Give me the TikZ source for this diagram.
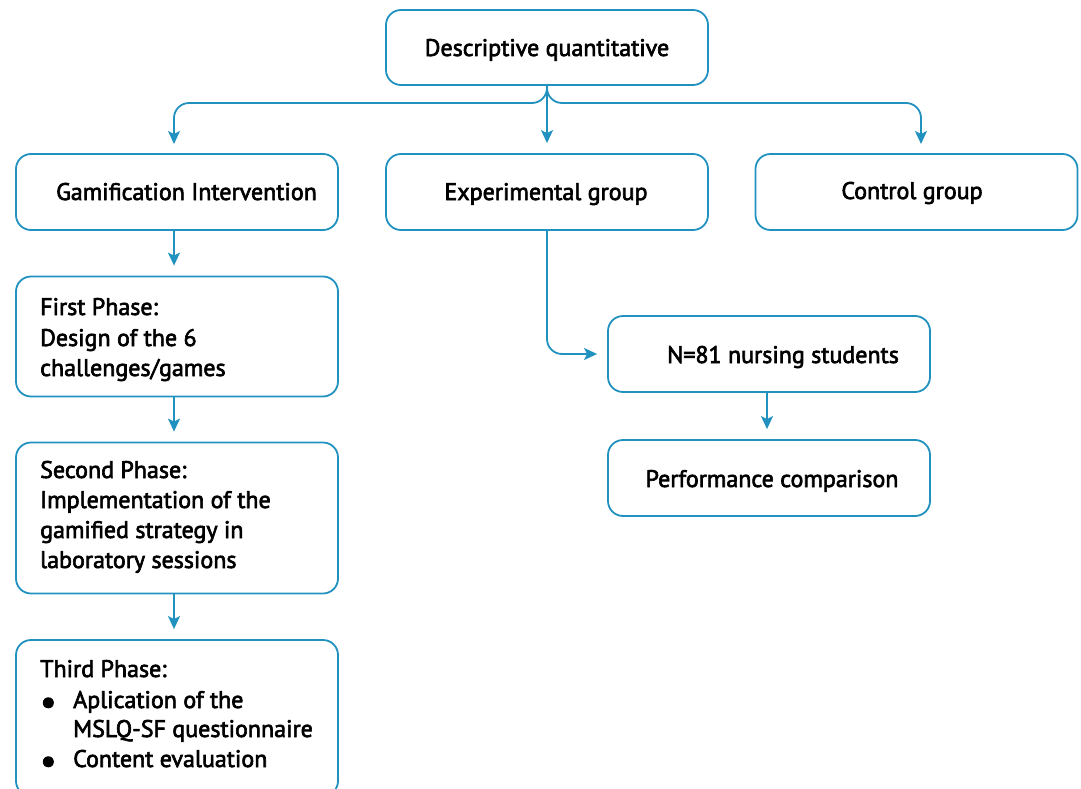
\documentclass[tikz,border=0pt]{standalone}
\usepackage{fontspec}
\setmainfont{PT Sans}[FakeBold=2.6]
\usetikzlibrary{arrows.meta}
\definecolor{lineblue}{RGB}{33,146,192}
\tikzset{
  box/.style={draw=lineblue, line width=1.8pt, rounded corners=15pt, minimum width=322pt, inner sep=0pt},
  lbl/.style={inner sep=0pt, font=\fontsize{24}{30}\selectfont, text=black, anchor=base},
  lline/.style={lbl, anchor=base west},
  bul/.style={inner sep=0pt, font=\fontsize{36}{30}\selectfont, text=black, anchor=base west},
  arr/.style={draw=lineblue, line width=1.8pt, -{Stealth[length=13pt,width=12pt,inset=3pt]}, shorten >=10pt},
}
\begin{document}
\begin{tikzpicture}[x=1pt,y=-1pt]
\useasboundingbox (0,0) rectangle (1081,789);
\begin{scope}
\clip (0,0) rectangle (1081,789);
% boxes
\node[box, minimum height=75pt] (desc) at (547,47.5) {};
\node[box, minimum height=76pt] (gam) at (177,192) {};
\node[box, minimum height=76pt] (exp) at (547,192) {};
\node[box, minimum height=76pt] (ctrl) at (916.5,192) {};
\node[box, minimum height=120pt] (first) at (177,336.5) {};
\node[box, minimum height=151pt] (second) at (177,518) {};
\node[box, minimum height=156pt] (third) at (177,718) {};
\node[box, minimum height=76pt] (nstud) at (769,354) {};
\node[box, minimum height=76pt] (perf) at (769,478) {};
% labels
\node[lbl] (tdesc) at (547,56) {Descriptive quantitative};
\node[lbl] (tgam) at (186.5,200) {Gamification Intervention};
\node[lbl] (texp) at (546,200) {Experimental group};
\node[lbl] (tctrl) at (912,199) {Control group};
\node[lbl] (tn) at (783,363) {N=81 nursing students};
\node[lbl] (tperf) at (772,487) {Performance comparison};
\node[lline] (f1) at (40,315) {First Phase:};
\node[lline] (f2) at (40,346) {Design of the 6};
\node[lline] (f3) at (40,376) {challenges/games};
\node[lline] (s1) at (40,478) {Second Phase:};
\node[lline] (s2) at (40,508) {Implementation of the};
\node[lline] (s3) at (40,538) {gamified strategy in};
\node[lline] (s4) at (40,568) {laboratory sessions};
\node[lline] (t1) at (40,677) {Third Phase:};
\node[bul] (b1) at (40,714) {\textbullet};
\node[lline] (t2) at (73,708) {Aplication of the};
\node[lline] (t3) at (73,737) {MSLQ-SF questionnaire};
\node[bul] (b2) at (40,773) {\textbullet};
\node[lline] (t4) at (73,767) {Content evaluation};
\end{scope}
% connectors
\coordinate (br) at (547,103);
\draw[arr] (desc.south) -- (exp.north);
\draw[arr, rounded corners=15pt] (desc.south) -- (br) -| (174,154);
\draw[arr, rounded corners=15pt] (desc.south) -- (br) -| (921,154);
\draw[arr] (gam.south -| 174,0) -- (first.north -| 174,0);
\draw[arr] (first.south -| 174,0) -- (second.north -| 174,0);
\draw[arr] (second.south -| 174,0) -- (third.north -| 174,0);
\draw[arr, rounded corners=15pt] (exp.south) |- (nstud.west);
\draw[arr] (nstud.south -| 767,0) -- (perf.north -| 767,0);
\end{tikzpicture}
\end{document}
